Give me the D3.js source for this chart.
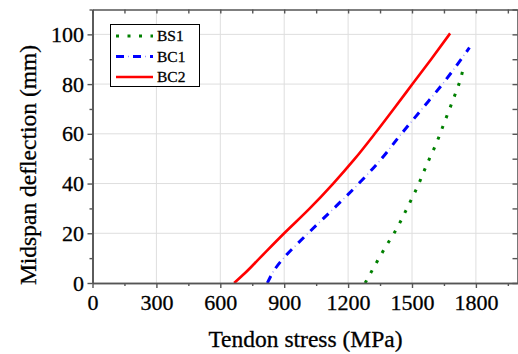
<!DOCTYPE html>
<html>
<head>
<meta charset="utf-8">
<script src="https://cdn.jsdelivr.net/npm/d3@7"></script>
<style>
  body { margin: 0; background: #fff; }
</style>
</head>
<body>
<div id="myChart"></div>
<script>
let svgW = 518;
let svgH = 354;
const fontName = "Liberation Serif";

// tendon stress (MPa) vs midspan deflection (mm)
const bs1Stress = [1280, 1369, 1431, 1481, 1528, 1572, 1614, 1653, 1692, 1727, 1745];
const bs1Defl   = [0, 13.5, 22.3, 30.8, 39.2, 48.1, 56.1, 64.8, 73.5, 81.8, 88];

const bc1Stress = [821, 852, 897, 953, 1012, 1133, 1250, 1357, 1450, 1547, 1643, 1770];
const bc1Defl   = [0, 5, 10, 15, 20, 30, 40, 50, 60, 70, 80, 94.7];

const bc2Stress = [665, 715, 785, 900, 1020, 1130, 1232, 1325, 1414, 1502, 1590, 1679];
const bc2Defl   = [0, 3.9, 10, 20, 30, 40, 50, 60, 70, 80, 90, 100.4];

const seriesNames = ["BS1", "BC1", "BC2"];
const xTicks = [0, 300, 600, 900, 1200, 1500, 1800];
const yTicks = [0, 20, 40, 60, 80, 100];

const plotL = 92.5, plotR = 518.5, plotT = 9.5, plotB = 283;

let svg = d3.select("#myChart").append("svg")
  .attr("width", svgW)
  .attr("height", svgH);

const x = d3.scaleLinear().domain([0, 2000]).range([plotL, plotR]);
const y = d3.scaleLinear().domain([0, 110]).range([plotB, plotT]);

const xMinor = d3.range(0, 2001, 150).filter(v => v % 300 !== 0);
const yMinor = d3.range(0, 111, 10).filter(v => v % 20 !== 0);

// grid
svg.append("g").selectAll("line").data(xTicks.slice(1)).enter().append("line")
  .attr("x1", d => x(d)).attr("x2", d => x(d))
  .attr("y1", plotT).attr("y2", plotB)
  .style("stroke", "#dedede").style("stroke-width", 1);
svg.append("g").selectAll("line").data(yTicks.slice(1)).enter().append("line")
  .attr("x1", plotL).attr("x2", plotR)
  .attr("y1", d => y(d)).attr("y2", d => y(d))
  .style("stroke", "#dedede").style("stroke-width", 1);

// curves
const series = [
  { stress: bs1Stress, defl: bs1Defl, color: "#008000", dash: "3,8.5", w: 3 },
  { stress: bc1Stress, defl: bc1Defl, color: "#0000ff", dash: "8,9", w: 3,
    dot: { color: "#9a9aff", dash: "0,12,1,4", w: 1.5 } },
  { stress: bc2Stress, defl: bc2Defl, color: "#ff0000", dash: null, w: 2.6 }
];

const line = d3.line()
  .x(d => x(d[0]))
  .y(d => y(d[1]))
  .curve(d3.curveMonotoneY);

series.forEach(s => {
  let pts = s.stress.map((v, i) => [v, s.defl[i]]);
  svg.append("path")
    .datum(pts)
    .attr("d", line)
    .style("fill", "none")
    .style("stroke", s.color)
    .style("stroke-width", s.w)
    .style("stroke-dasharray", s.dash);
  if (s.dot) {
    svg.append("path")
      .datum(pts)
      .attr("d", line)
      .style("fill", "none")
      .style("stroke", s.dot.color)
      .style("stroke-width", s.dot.w)
      .style("stroke-dasharray", s.dot.dash);
  }
});

// text a bit heavier, like the reference
function darkText(sel) {
  sel.style("font-family", fontName)
    .style("fill", "#000")
    .style("stroke", "#000")
    .style("stroke-width", 0.3);
}

// axes
function styleAxis(g) {
  g.attr("font-family", fontName);
  g.select(".domain").style("stroke", "#555").style("stroke-width", 1.6);
  g.selectAll(".tick line").style("stroke", "#555").style("stroke-width", 1.4);
  g.selectAll("text").call(darkText);
}

svg.append("g").attr("transform", `translate(0,${plotB})`)
  .call(d3.axisBottom(x).tickValues(xMinor).tickSize(3).tickFormat("").tickSizeOuter(0))
  .call(styleAxis);
let xAxis = svg.append("g").attr("transform", `translate(0,${plotB})`)
  .call(d3.axisBottom(x).tickValues(xTicks).tickSize(5).tickFormat(d3.format("d")).tickSizeOuter(0))
  .call(styleAxis);
xAxis.selectAll("text").attr("y", 11.5).style("font-size", "22px");

svg.append("g").attr("transform", `translate(${plotL},0)`)
  .call(d3.axisLeft(y).tickValues(yMinor).tickSize(3).tickFormat("").tickSizeOuter(0))
  .call(styleAxis);
let yAxis = svg.append("g").attr("transform", `translate(${plotL},0)`)
  .call(d3.axisLeft(y).tickValues(yTicks).tickSize(5).tickFormat(d3.format("d")).tickSizeOuter(0))
  .call(styleAxis);
yAxis.selectAll("text").attr("x", -8.5).style("font-size", "22px");

svg.append("g").attr("transform", `translate(0,${plotT})`)
  .call(d3.axisTop(x).tickValues(d3.range(0, 2001, 150)).tickSize(-4).tickFormat("").tickSizeOuter(0))
  .call(styleAxis);
svg.append("g").attr("transform", `translate(${plotR - 1},0)`)
  .call(d3.axisRight(y).tickValues(d3.range(0, 111, 10)).tickSize(-5).tickFormat("").tickSizeOuter(0))
  .call(styleAxis);

// titles
svg.append("text")
  .attr("x", 305.5).attr("y", 347)
  .attr("text-anchor", "middle")
  .style("font-size", "23.5px")
  .call(darkText)
  .text("Tendon stress (MPa)");
svg.append("text")
  .attr("transform", "translate(36,165) rotate(-90)")
  .attr("text-anchor", "middle")
  .style("font-size", "23.5px")
  .call(darkText)
  .text("Midspan deflection (mm)");

// legend
let legend = svg.append("g");
legend.append("rect")
  .attr("x", 110.5).attr("y", 24.5)
  .attr("width", 89).attr("height", 62)
  .style("fill", "#fff").style("stroke", "#000").style("stroke-width", 1);
const legY = [36, 56.5, 77];
series.forEach((s, i) => {
  legend.append("line")
    .attr("x1", 116).attr("x2", 153)
    .attr("y1", legY[i]).attr("y2", legY[i])
    .style("stroke", s.color)
    .style("stroke-width", s.w)
    .style("stroke-dasharray", s.dash);
  if (s.dot) {
    legend.append("line")
      .attr("x1", 116).attr("x2", 153)
      .attr("y1", legY[i]).attr("y2", legY[i])
      .style("stroke", s.dot.color)
      .style("stroke-width", s.dot.w)
      .style("stroke-dasharray", s.dot.dash);
  }
  legend.append("text")
    .attr("x", 157).attr("y", legY[i]).attr("dy", "0.35em")
    .style("font-size", "15.5px")
    .call(darkText)
    .text(seriesNames[i]);
});
</script>
</body>
</html>
